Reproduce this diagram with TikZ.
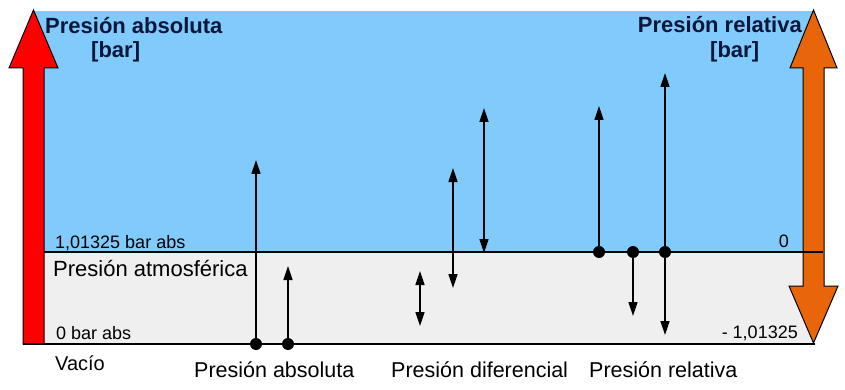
\documentclass[tikz,border=0pt]{standalone}
\usepackage{fontspec}
\setmainfont{Liberation Sans}
\usetikzlibrary{arrows.meta}
\definecolor{skyb}{RGB}{128,202,252}
\definecolor{greyb}{RGB}{239,239,239}
\definecolor{orng}{RGB}{232,101,10}
\definecolor{navy}{RGB}{10,22,58}
\begin{document}
\begin{tikzpicture}[x=1pt,y=-1pt,
  title/.style={font=\fontsize{22}{26}\selectfont\bfseries, text=navy, inner sep=0},
  lbl/.style={font=\fontsize{18}{22}\selectfont, inner sep=0},
  captxt/.style={font=\fontsize{21.5}{26}\selectfont, inner sep=0},
  arr/.style={line width=1.5pt, -{Triangle[length=14pt,width=9pt]}},
  darr/.style={line width=1.5pt, {Triangle[length=14pt,width=9pt]}-{Triangle[length=14pt,width=9pt]}},
  dot/.style={circle, fill=black, minimum size=12pt, inner sep=0},
  bigarrow/.style={draw=black, line width=1pt, line join=miter}]
\useasboundingbox (0,0) rectangle (845,390);
% regions
\fill[skyb] (35,11) rectangle (813,252);
\fill[greyb] (43,252) rectangle (813,344);
% big arrows
\filldraw[bigarrow, fill=orng] (813.5,10) -- (837,68) -- (824,68) -- (824,286) -- (838,286) -- (813.5,343) -- (789,286) -- (803,286) -- (803,68) -- (790,68) -- cycle;
\filldraw[bigarrow, fill=red] (23,344) -- (23,68) -- (9,68) -- (33.5,10) -- (58,68) -- (44,68) -- (44,344) -- cycle;
% reference lines
\coordinate (mL) at (44,252);
\coordinate (mR) at (823,252);
\coordinate (bL) at (23,344);
\coordinate (bR) at (815,344);
\draw[line width=1.5pt] (mL) -- (mR);
\draw[line width=1.5pt] (bL) -- (bR);
% titles
\node[title, anchor=base west] (tabs) at (45,34) {Presión absoluta};
\node[title, anchor=base west] (babs) at (91,58) {[bar]};
\node[title, anchor=base east] (trel) at (802,33) {Presión relativa};
\node[title, anchor=base west] (brel) at (710,58) {[bar]};
% labels
\node[lbl, anchor=base west] (atm) at (55,248) {1,01325 bar abs};
\node[font=\fontsize{22}{26}\selectfont, inner sep=0, anchor=base west] (patm) at (53,276) {Presión atmosférica};
\node[lbl, anchor=base west] (zero) at (56,339) {0 bar abs};
\node[font=\fontsize{20}{24}\selectfont, inner sep=0, anchor=base west] (vac) at (55,370) {Vacío};
\node[lbl, anchor=base east] (r0) at (789,247) {0};
\node[lbl, anchor=base east] (rneg) at (798,338) {- 1,01325};
\node[captxt, anchor=base west] (cabs) at (194,377) {Presión absoluta};
\node[captxt, anchor=base west] (cdif) at (391,377) {Presión diferencial};
\node[captxt, anchor=base west] (crel) at (589,377) {Presión relativa};
% absolute pressure
\node[dot] (a1) at (256,344) {};
\node[dot] (a2) at (288,344) {};
\coordinate (a1t) at (256,160);
\coordinate (a2t) at (288,266);
\draw[arr] (a1.center) -- (a1t);
\draw[arr] (a2.center) -- (a2t);
% differential pressure
\coordinate (d1a) at (420,271);
\coordinate (d1b) at (420,326);
\coordinate (d2a) at (453,168);
\coordinate (d2b) at (453,288);
\coordinate (d3a) at (484,108);
\coordinate (d3b) at (484,253);
\draw[darr] (d1a) -- (d1b);
\draw[darr] (d2a) -- (d2b);
\draw[darr] (d3a) -- (d3b);
% relative pressure
\node[dot] (r1) at (599,252) {};
\node[dot] (r2) at (633,252) {};
\node[dot] (r3) at (665,252) {};
\coordinate (r1t) at (599,106);
\coordinate (r2t) at (633,316);
\coordinate (r3t) at (665,73);
\coordinate (r3b) at (665,335);
\draw[arr] (r1.center) -- (r1t);
\draw[arr] (r2.center) -- (r2t);
\draw[arr] (r3.center) -- (r3t);
\draw[arr] (r3.center) -- (r3b);
\end{tikzpicture}
\end{document}
